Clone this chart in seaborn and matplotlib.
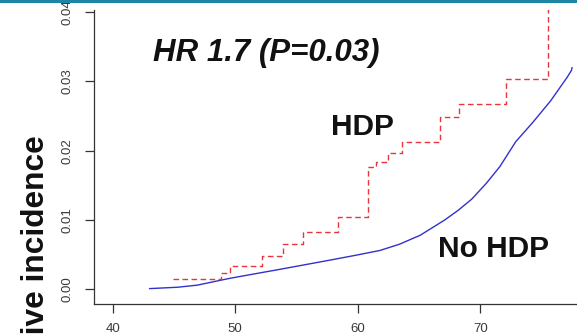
import numpy as np
import pandas as pd
import matplotlib
matplotlib.use('Agg')
import matplotlib.pyplot as plt
import seaborn as sns
from matplotlib.patches import Rectangle

# HDP group - red dashed step curve (age, cumulative incidence)
hdp_age = [44.9, 48.8, 49.6, 52.2, 53.9, 55.5, 58.4, 60.8, 61.5, 62.5, 63.6, 66.7, 68.3, 72.1, 75.5]
hdp_inc = [0.0015, 0.0023, 0.0034, 0.0048, 0.0065, 0.0083, 0.0104, 0.0177, 0.0183,
           0.0197, 0.0213, 0.0249, 0.0268, 0.0303, 0.0410]

# No HDP group - blue solid curve
nohdp_age = [43.0, 45.3, 46.9, 49.6, 53.7, 57.7, 59.8, 61.8, 63.4, 65.1, 67.1, 68.2,
             69.3, 70.5, 71.6, 72.9, 74.3, 75.75, 77.1, 77.45, 77.5]
nohdp_inc = [0.0001, 0.0003, 0.0006, 0.0016, 0.0029, 0.0042, 0.0049, 0.0056, 0.0065,
             0.0078, 0.0100, 0.0114, 0.0130, 0.0153, 0.0177, 0.0213, 0.0241, 0.0272,
             0.0306, 0.0316, 0.0320]

x_ticks = [40, 50, 60, 70]
y_ticks = [0.00, 0.01, 0.02, 0.03, 0.04]
y_ticklabels = ['0.00', '0.01', '0.02', '0.03', '0.04']

sns.set_style('ticks')
plt.rcParams['font.family'] = ['Liberation Sans', 'DejaVu Sans']

W, H = 577, 335
fig = plt.figure(figsize=(W / 100, H / 100), dpi=100)
ax = fig.add_axes([94 / W, 31 / H, 1 - 94 / W, 294 / H])

sns.lineplot(x=nohdp_age, y=nohdp_inc, ax=ax, color='#3131cc', lw=1.0,
             estimator=None, sort=False)
sns.lineplot(x=hdp_age, y=hdp_inc, ax=ax, color='#e8343c', lw=1.0,
             estimator=None, sort=False, drawstyle='steps-post',
             linestyle=(0, (4, 2.5)))

ax.set_xlim(38.47, 77.9)
ax.set_ylim(-0.00212, 0.0403)
ax.set_xticks(x_ticks)
ax.set_xticklabels([str(t) for t in x_ticks])
ax.set_yticks(y_ticks)
ax.set_yticklabels(y_ticklabels)
ax.set_xlabel('')
ax.set_ylabel('')

sns.despine(ax=ax, top=True, right=True)
for s in ['left', 'bottom']:
    ax.spines[s].set_color('#333333')
    ax.spines[s].set_linewidth(0.9)
ax.tick_params(direction='out', length=6.5, width=0.9, color='#333333',
               labelsize=9.5, labelcolor='#3a3a3a', pad=8.5)
ax.tick_params(axis='x', pad=7.0)
for t in ax.get_yticklabels():
    t.set_rotation(90)
    t.set_va('center')

# annotations
ax.text(43.3, 0.0329, 'HR 1.7 (P=0.03)', fontsize=22.5, fontweight='bold',
        fontstyle='italic', ha='left', va='baseline', color='#111111')
ax.text(57.82, 0.02226, 'HDP', fontsize=21.5, fontweight='bold',
        ha='left', va='baseline', color='#111111')
ax.text(66.58, 0.00462, 'No HDP', fontsize=21.5, fontweight='bold',
        ha='left', va='baseline', color='#111111')

# y label, cut off at the bottom like the reference
fig.text(44 / W, (H - 135) / H, 'Cumulative incidence', rotation=90,
         rotation_mode='anchor', ha='right', va='baseline',
         fontsize=22.8, fontweight='bold', color='#111111')

# teal band across the top
fig.add_artist(Rectangle((0, 1 - 3 / H), 1, 3 / H, transform=fig.transFigure,
                         color='#1c87a5', lw=0))

fig.savefig('out.png', dpi=100)
